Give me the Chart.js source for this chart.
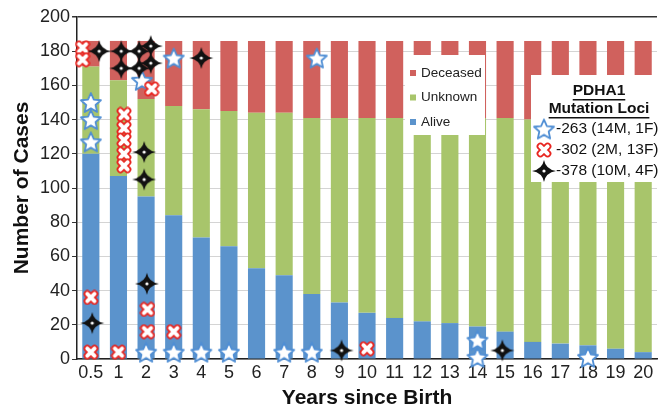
<!DOCTYPE html>
<html>
<head>
<meta charset="utf-8">
<script src="https://cdn.jsdelivr.net/npm/chart.js@4.4.0/dist/chart.umd.min.js"></script>
<style>
  html, body { margin: 0; padding: 0; background: #fff; }
  #wrap { width: 667px; height: 412px; }
</style>
</head>
<body>
<div id="wrap"><canvas id="chart"></canvas></div>
<script>
// years since birth (categories)
const years = ['0.5', '1', '2', '3', '4', '5', '6', '7', '8', '9', '10',
               '11', '12', '13', '14', '15', '16', '17', '18', '19', '20'];

// number of cases per status
const alive    = [120, 107, 95, 84, 71, 66, 53, 49, 38, 33, 27, 24, 22, 21, 19, 16, 10, 9, 8, 6, 4];
const unknown  = [51, 56, 57, 64, 75, 79, 91, 95, 103, 108, 114, 117, 119, 120, 122, 125, 130, 132, 133, 135, 137];
const deceased = [15, 23, 34, 38, 40, 41, 42, 42, 45, 45, 45, 45, 45, 45, 45, 45, 46, 45, 45, 45, 45];

const yTicks = [0, 20, 40, 60, 80, 100, 120, 140, 160, 180, 200];

// PDHA1 mutation loci markers: [year, jitter (in category widths), cases]
const loci263 = [
  ['0.5', 0, 150], ['0.5', 0, 140], ['0.5', 0, 127],
  ['2', -0.15, 163], ['3', 0, 176], ['8', 0.18, 176],
  ['2', 0, 4], ['3', 0, 4], ['4', 0, 4], ['5', 0, 4], ['7', 0, 4], ['8', 0, 4],
  ['14', 0, 11], ['14', 0, 1], ['18', 0, 1]
];
const loci302 = [
  ['0.5', -0.3, 182], ['0.5', -0.3, 175], ['0.5', 0, 36], ['0.5', 0, 4],
  ['1', 0.2, 143], ['1', 0.2, 135], ['1', 0.2, 128], ['1', 0.2, 120], ['1', 0.2, 113], ['1', 0, 4],
  ['2', 0.2, 158], ['2', 0.05, 29], ['2', 0.05, 16],
  ['3', 0, 16], ['10', 0, 6]
];
const loci378 = [
  ['0.5', 0.3, 180], ['0.5', 0.05, 21],
  ['1', 0.1, 180], ['1', 0.1, 170],
  ['2', -0.25, 180], ['2', -0.25, 170], ['2', 0.17, 183], ['2', 0.17, 173],
  ['2', -0.07, 121], ['2', -0.07, 105], ['2', 0.03, 44],
  ['4', 0, 176], ['9', 0.08, 5], ['15', -0.1, 5]
];

const lociLabels = ['-263 (14M, 1F)', '-302 (2M, 13F)', '-378 (10M, 4F)'];

const FONT = '"Liberation Sans", Arial, Helvetica, sans-serif';
const colAlive = '#5b93cc';
const colUnknown = '#a8c56b';
const colDeceased = '#d0615d';

// marker images
function starImg() {
  const c = document.createElement('canvas');
  c.width = 24; c.height = 23;
  const g = c.getContext('2d');
  g.translate(12, 12.5);
  g.beginPath();
  for (let i = 0; i < 10; i++) {
    const r = i % 2 ? 4.9 : 10.5;
    const a = -Math.PI / 2 + i * Math.PI / 5;
    g.lineTo(r * Math.cos(a), r * Math.sin(a));
  }
  g.closePath();
  g.fillStyle = '#fff';
  g.fill();
  g.lineWidth = 1.8;
  g.lineJoin = 'round';
  g.strokeStyle = '#4f8ed4';
  g.stroke();
  return c;
}

function crossImg() {
  const c = document.createElement('canvas');
  c.width = 16; c.height = 16;
  const g = c.getContext('2d');
  g.translate(8, 8);
  g.lineCap = 'round';
  const path = () => {
    g.beginPath();
    g.moveTo(-3.6, -3.6); g.lineTo(3.6, 3.6);
    g.moveTo(-3.6, 3.6); g.lineTo(3.6, -3.6);
  };
  path(); g.lineWidth = 7.5; g.strokeStyle = '#e8241f'; g.stroke();
  path(); g.lineWidth = 4; g.strokeStyle = '#fff'; g.stroke();
  return c;
}

function fourStarImg() {
  const c = document.createElement('canvas');
  c.width = 26; c.height = 24;
  const g = c.getContext('2d');
  g.translate(13, 12);
  const h = 12, v = 11, k = 1.7;
  g.beginPath();
  g.moveTo(0, -v);
  g.quadraticCurveTo(k, -k, h, 0);
  g.quadraticCurveTo(k, k, 0, v);
  g.quadraticCurveTo(-k, k, -h, 0);
  g.quadraticCurveTo(-k, -k, 0, -v);
  g.closePath();
  g.fillStyle = '#111';
  g.fill();
  g.beginPath();
  g.arc(0, 0, 1.6, 0, Math.PI * 2);
  g.fillStyle = '#fff';
  g.fill();
  return c;
}

const imgStar = starImg();
const imgCross = crossImg();
const imgFour = fourStarImg();

const toPoints = list => list.map(p => ({ x: years.indexOf(p[0]) + p[1], y: p[2] }));

// inset legends drawn on top of the plot
const insetLegends = {
  id: 'insetLegends',
  afterDraw(chart) {
    const ctx = chart.ctx;
    ctx.save();
    // status legend
    ctx.fillStyle = '#fff';
    ctx.fillRect(405, 55, 80, 80);
    const rows = [['Deceased', colDeceased], ['Unknown', colUnknown], ['Alive', colAlive]];
    ctx.font = '13.5px ' + FONT;
    ctx.textBaseline = 'middle';
    rows.forEach((r, i) => {
      const y = 73 + i * 24.5;
      ctx.fillStyle = r[1];
      ctx.fillRect(410, y - 3, 6, 6);
      ctx.fillStyle = '#222';
      ctx.fillText(r[0], 421, y);
    });

    // mutation loci legend
    ctx.fillStyle = '#fff';
    ctx.fillRect(531, 75, 136, 107);
    ctx.fillStyle = '#111';
    ctx.font = 'bold 15.5px ' + FONT;
    ctx.textAlign = 'center';
    [['PDHA1', 91], ['Mutation Loci', 109]].forEach(t => {
      ctx.fillText(t[0], 599, t[1]);
      const w = ctx.measureText(t[0]).width;
      ctx.fillRect(599 - w / 2, t[1] + 8, w, 1.5);
    });
    ctx.textAlign = 'left';
    ctx.font = '15.5px ' + FONT;
    const imgs = [imgStar, imgCross, imgFour];
    lociLabels.forEach((lab, i) => {
      const y = 129 + i * 21;
      const im = imgs[i];
      ctx.drawImage(im, 544 - im.width / 2, y - im.height / 2);
      ctx.fillStyle = '#111';
      ctx.fillText(lab, 556, y);
    });
    ctx.restore();
  }
};

const markerSet = (label, list, img, order) => ({
  type: 'scatter',
  label: label,
  data: toPoints(list),
  xAxisID: 'xm',
  yAxisID: 'ym',
  pointStyle: img,
  pointRadius: 8,
  showLine: false,
  clip: false,
  order: order
});

const barSet = (label, data, color) => ({
  label: label,
  data: data,
  backgroundColor: color,
  stack: 'status',
  grouped: false,
  order: 10
});

new Chart(document.getElementById('chart'), {
  type: 'bar',
  data: {
    labels: years,
    datasets: [
      markerSet(lociLabels[0], loci263, imgStar, 3),
      markerSet(lociLabels[1], loci302, imgCross, 2),
      markerSet(lociLabels[2], loci378, imgFour, 1),
      barSet('Alive', alive, colAlive),
      barSet('Unknown', unknown, colUnknown),
      barSet('Deceased', deceased, colDeceased)
    ]
  },
  options: {
    responsive: true,
    maintainAspectRatio: false,
    animation: false,
    categoryPercentage: 1,
    barPercentage: 0.62,
    layout: { padding: { top: 17, right: 10, left: 12, bottom: 0 } },
    plugins: {
      legend: { display: false },
      tooltip: { enabled: false }
    },
    scales: {
      x: {
        stacked: true,
        grid: { display: false, drawTicks: false, tickLength: 0 },
        border: { color: '#222', width: 1.5 },
        ticks: { color: '#222', font: { family: FONT, size: 18, lineHeight: 1 }, padding: 5, maxRotation: 0, autoSkip: false },
        title: {
          display: true, text: 'Years since Birth', color: '#111',
          font: { family: FONT, size: 21, weight: 'bold', lineHeight: 1 },
          padding: { top: 1, bottom: 3 }
        }
      },
      y: {
        stacked: true,
        min: 0, max: 200,
        afterBuildTicks: axis => { axis.ticks = yTicks.map(v => ({ value: v })); },
        grid: {
          color: c => c.tick && c.tick.value === 200 ? '#333' : '#d4d4d4',
          lineWidth: c => c.tick && c.tick.value === 200 ? 1.5 : 1,
          tickColor: '#333',
          tickLength: 5
        },
        border: { color: '#222', width: 1.5 },
        ticks: { color: '#222', font: { family: FONT, size: 18, lineHeight: 1 }, padding: 2 },
        title: {
          display: true, text: 'Number of Cases', color: '#111',
          font: { family: FONT, size: 21, weight: 'bold', lineHeight: 1 },
          padding: { top: 0, bottom: 5 }
        }
      },
      xm: { type: 'linear', min: -0.5, max: 20.5, offset: false, display: false },
      ym: { type: 'linear', min: 0, max: 200, display: false }
    }
  },
  plugins: [insetLegends]
});
</script>
</body>
</html>
